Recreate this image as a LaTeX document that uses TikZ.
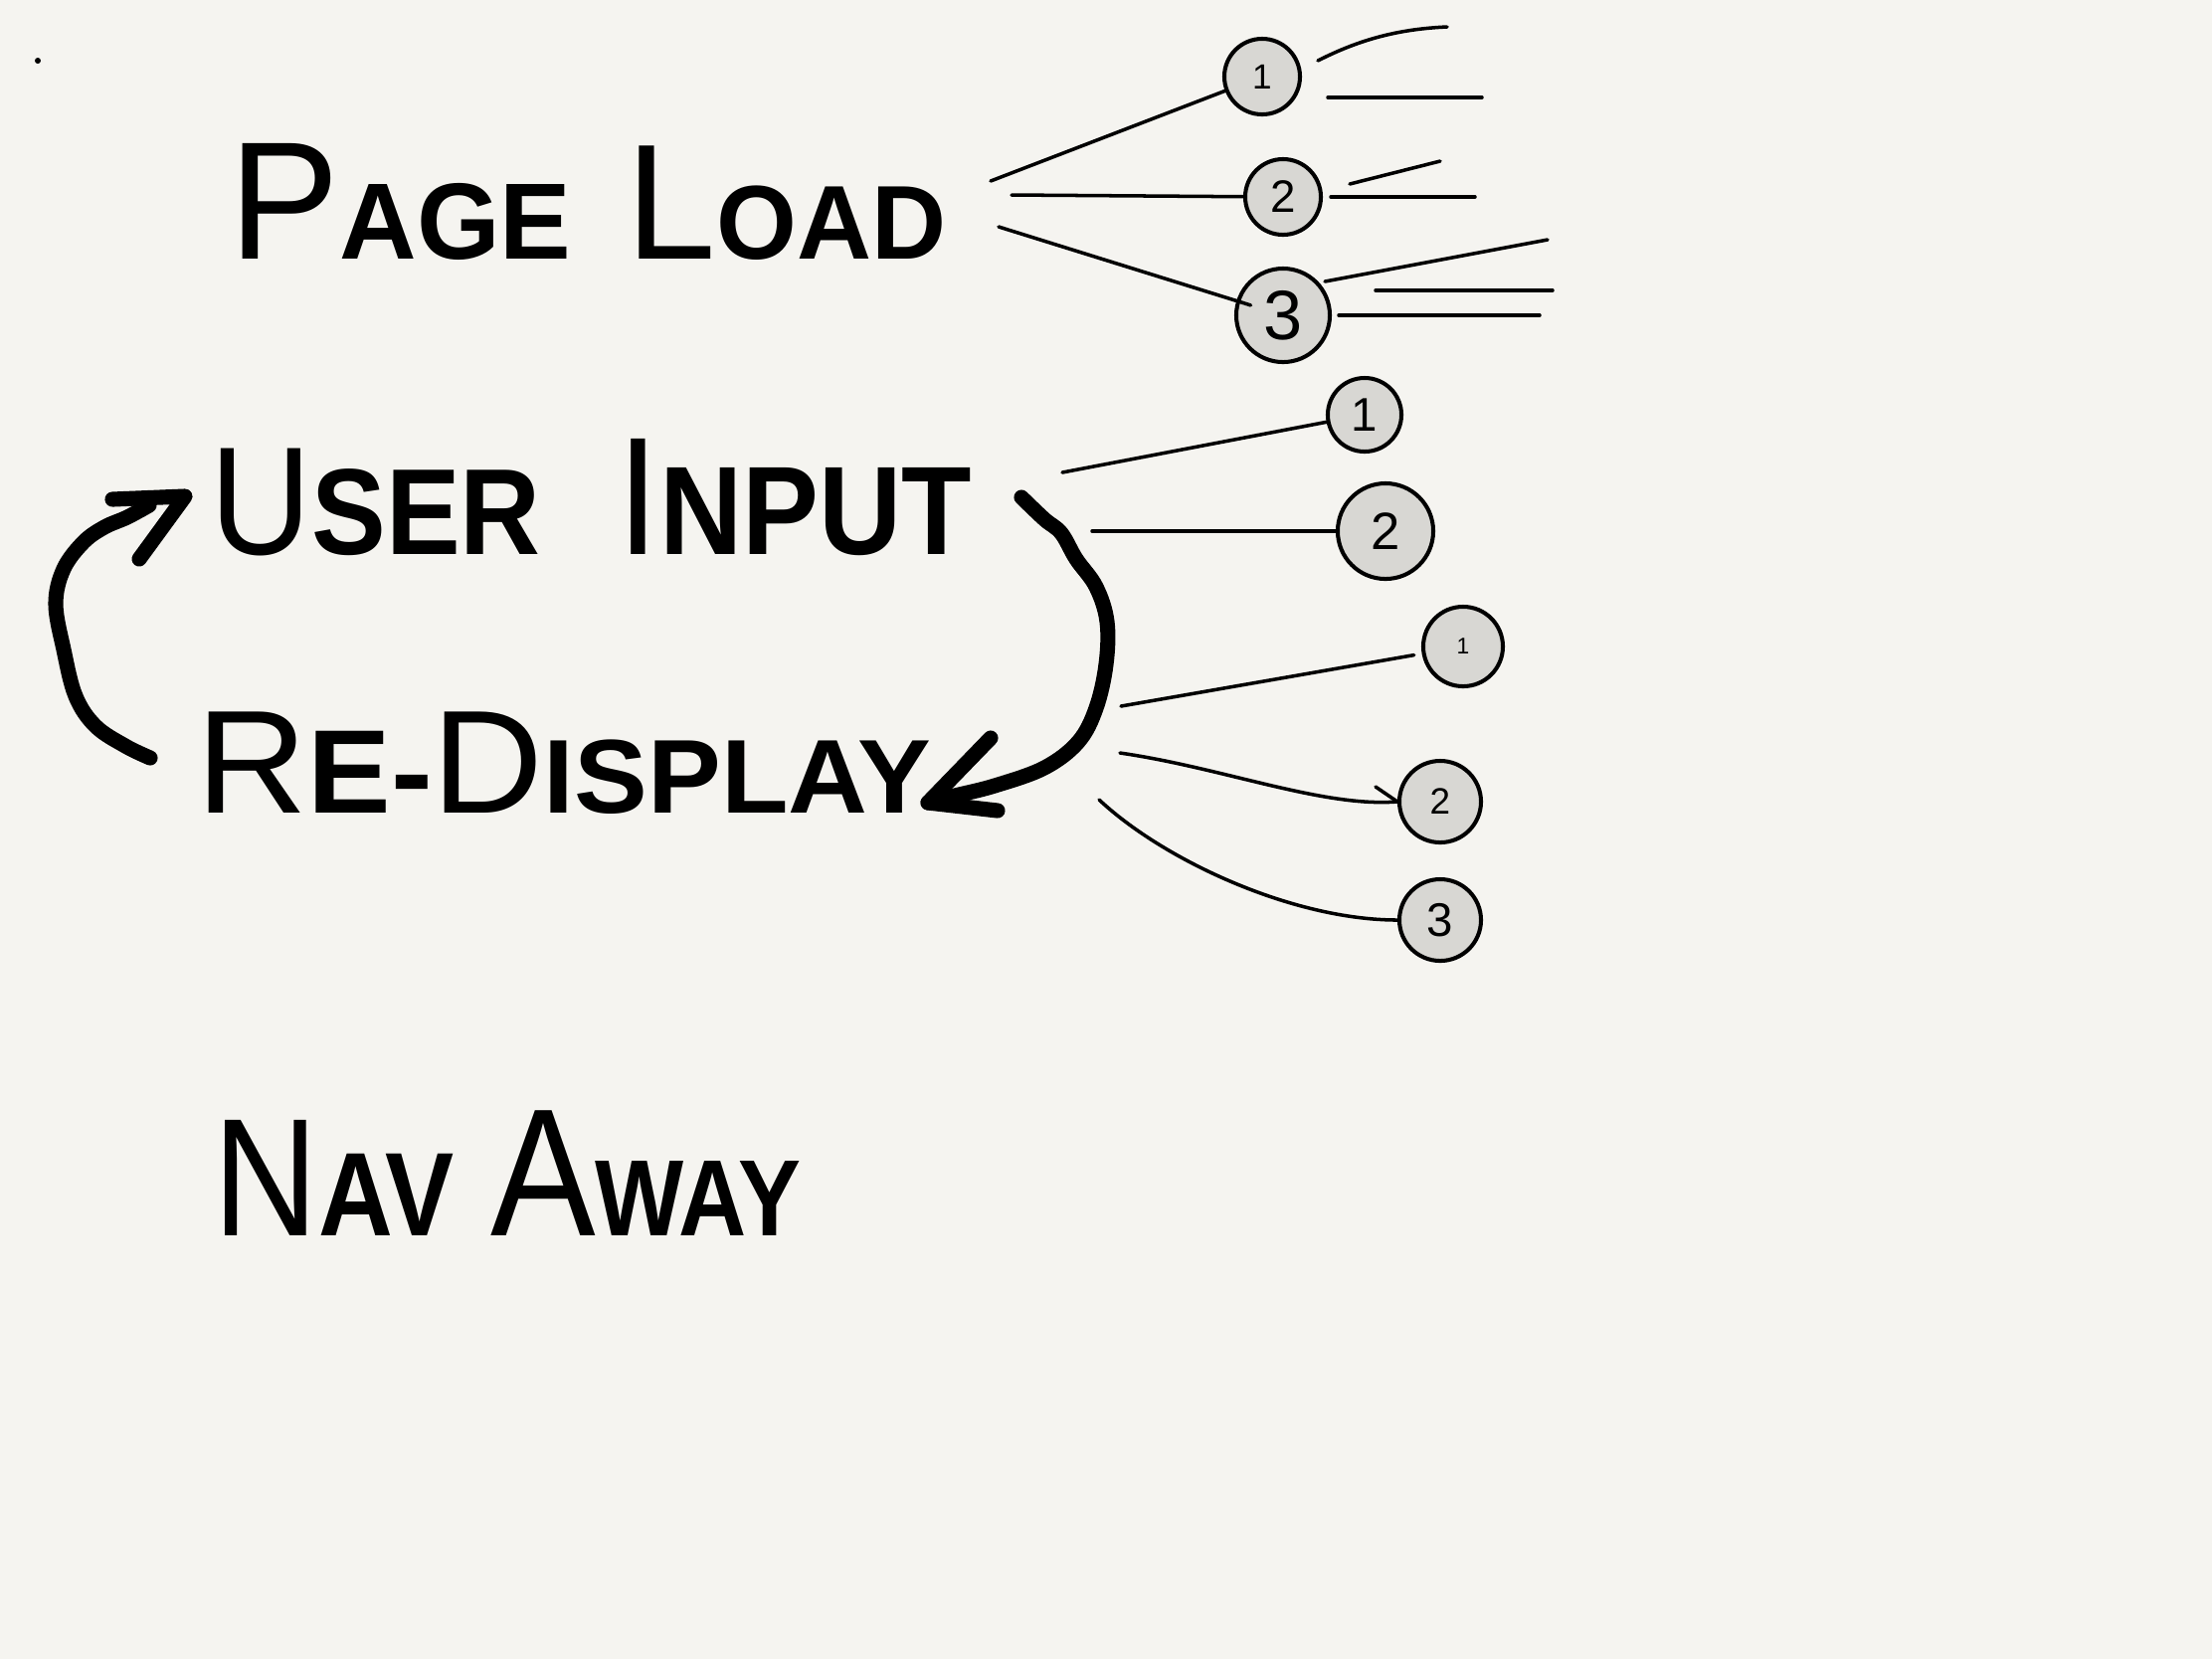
\documentclass[tikz,border=0pt]{standalone}
\usepackage{fontspec}
\usepackage{graphicx}
\setmainfont{Liberation Sans}
\usetikzlibrary{calc}
\definecolor{paper}{RGB}{245,244,240}
\definecolor{bubble}{RGB}{216,215,211}
\newcommand\Fs[2]{{\fontsize{#1}{#1}\selectfont #2}}
\newcommand\Fb[2]{{\fontsize{#1}{#1}\selectfont\bfseries #2}}
\newcommand\Wd[2]{\resizebox{#1}{\height}{#2}}
\tikzset{
  word/.style={anchor=base west, inner sep=0pt, text=black},
  bub/.style={circle, draw=black, line width=1.15pt, fill=bubble, inner sep=0pt, minimum size=#1},
  thin/.style={draw=black, line width=1pt, line cap=round, line join=round},
  fat/.style={draw=black, line width=4.3pt, line cap=round, line join=round},
}
\begin{document}
\begin{tikzpicture}[x=0.01cm, y=-0.01cm]
\fill[paper] (0,0) rectangle (2224,1668);
\useasboundingbox (0,0) rectangle (2224,1668);
\fill[black] (38,61) circle (3);

% ---- words ----
\node[word] (pl) at (230,260) {\Wd{7.2cm}{\Fs{48}{P}\Fb{31}{AGE}\hspace{16pt}\Fs{47}{L}\Fb{30}{OAD}}};
\node[word] (ui) at (211,557) {\Wd{7.65cm}{\Fs{44}{U}\Fb{35}{SER}\hspace{24pt}\Fs{48}{I}\Fb{36}{NPUT}}};
\node[word] (rd) at (197,817) {\Wd{7.38cm}{\Fs{42}{R}\Fb{34}{E-}\Fs{42}{D}\Fb{30}{ISPLAY}}};
\node[word] (na) at (214,1242) {\Wd{5.9cm}{\Fs{48}{N}\Fb{34}{AV}\hspace{12pt}\Fs{52}{A}\Fb{31}{WAY}}};

% ---- page load bubbles ----
\node[bub=0.76cm] (c1) at (1269,77) {\Fs{10}{1}};
\node[bub=0.76cm] (c2) at (1290,198) {\Fs{13}{2}};
\node[bub=0.94cm] (c3) at (1290,317) {\Fs{20}{3}};
\coordinate (p1) at (996,182);
\coordinate (p2) at (1017,196);
\coordinate (p3) at (1004,228);
\draw[thin] (p1) -- (c1);
\draw[thin] (p2) -- (c2);
\draw[thin, shorten >=0.34cm] (p3) -- (c3.center);
\coordinate (o1a) at (1325,61);  \coordinate (o1b) at (1455,27);
\coordinate (o2a) at (1335,98);  \coordinate (o2b) at (1490,98);
\coordinate (o3a) at (1357,185); \coordinate (o3b) at (1448,162);
\coordinate (o4a) at (1338,198); \coordinate (o4b) at (1483,198);
\coordinate (o5a) at (1332,283); \coordinate (o5b) at (1556,241);
\coordinate (o6a) at (1383,292); \coordinate (o6b) at (1561,292);
\coordinate (o7a) at (1346,317); \coordinate (o7b) at (1548,317);
\draw[thin] (o1a) .. controls (1370,38) and (1410,29) .. (o1b);
\draw[thin] (o2a) -- (o2b);
\draw[thin] (o3a) -- (o3b);
\draw[thin] (o4a) -- (o4b);
\draw[thin] (o5a) -- (o5b);
\draw[thin] (o6a) -- (o6b);
\draw[thin] (o7a) -- (o7b);

% ---- user input bubbles ----
\node[bub=0.74cm] (u1) at (1372,417) {\Fs{13.5}{1}};
\node[bub=0.96cm] (u2) at (1393,534) {\Fs{15}{2}};
\coordinate (q1) at (1068,475);
\coordinate (q2) at (1098,534);
\draw[thin] (q1) -- (u1);
\draw[thin] (q2) -- (u2);

% ---- re-display bubbles ----
\node[bub=0.80cm] (r1) at (1471,650) {\Fs{6.5}{1}};
\node[bub=0.82cm] (r2) at (1448,806) {\Fs{10.5}{2}};
\node[bub=0.82cm] (r3) at (1448,925) {\Fs{13.5}{3}};
\coordinate (s1) at (1127,710);
\coordinate (s2) at (1126,757);
\coordinate (s3) at (1105,804);
\coordinate (barb) at (1383,791);
\draw[thin, shorten >=0.08cm] (s1) -- (r1);
\draw[thin] (s2) .. controls (1230,772) and (1330,812) .. (r2.west);
\draw[thin] (barb) -- (r2.west);
\draw[thin] (s3) .. controls (1170,865) and (1300,925) .. (r3.west);

% ---- cycle arrows ----
\coordinate (uiout) at (1027,500);
\coordinate (rdin) at (933,807);
\draw[fat] plot[smooth, tension=0.6] coordinates {(uiout) (1050,522) (1067,536) (1082,562) (1102,590) (1113,625) (1112,668) (1102,712) (1084,746) (1050,772) (1000,790) (960,800) (rdin)};
\draw[fat] (996,742) -- (rdin) -- (1003,815);

\coordinate (rdout) at (151,762);
\coordinate (uiin) at (186,499);
\draw[fat] plot[smooth, tension=0.6] coordinates {(rdout) (126,750) (96,730) (76,700) (64,653) (56,607) (64,572) (84,545) (105,530) (128,520) (150,508)};
\draw[fat] (113,502) -- (uiin) -- (140,562);
\end{tikzpicture}
\end{document}
